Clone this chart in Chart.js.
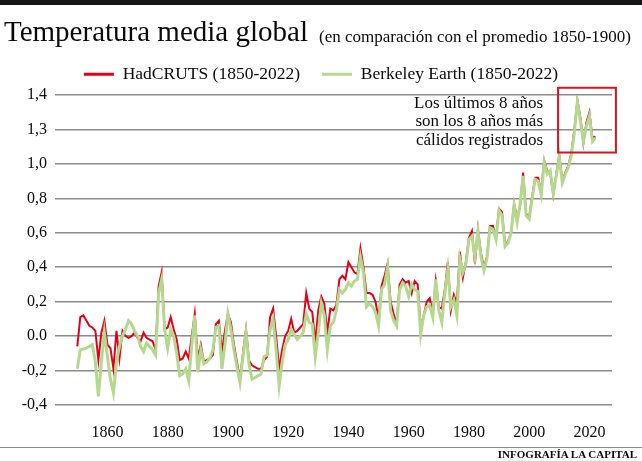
<!DOCTYPE html>
<html>
<head>
<meta charset="utf-8">
<script src="https://cdn.jsdelivr.net/npm/chart.js@4.4.1/dist/chart.umd.min.js"></script>
<style>
  html, body { margin: 0; padding: 0; background: #fff; }
  body { width: 642px; height: 461px; position: relative; overflow: hidden; font-family: "Liberation Serif", serif; color: #0a0a0a; }
  #chart { position: absolute; left: 0; top: 0; }
  .topbar { position: absolute; left: 0; top: 0; width: 642px; height: 5px; background: #161616; }
  .bottomline { position: absolute; left: 0; top: 447px; width: 642px; height: 1px; background: #8a8a8a; }
  .title { position: absolute; left: 4px; top: 17.4px; font-size: 29px; line-height: 29px; white-space: nowrap; }
  .subtitle { position: absolute; left: 319px; top: 27.5px; font-size: 17px; line-height: 17px; white-space: nowrap; }
  .note { position: absolute; right: 99px; top: 93.5px; font-size: 17px; line-height: 18.5px; text-align: right; white-space: nowrap; }
  .credit { position: absolute; right: 5px; top: 449.4px; font-size: 11px; line-height: 11px; font-weight: bold; white-space: nowrap; }
</style>
</head>
<body>
<canvas id="chart" width="642" height="461"></canvas>
<div class="topbar"></div>
<div class="title">Temperatura media global</div>
<div class="subtitle">(en comparación con el promedio 1850-1900)</div>
<div class="note">Los últimos 8 años<br>son los 8 años más<br>cálidos registrados</div>
<div class="bottomline"></div>
<div class="credit">INFOGRAFÍA LA CAPITAL</div>
<script>
// anomalies vs 1850-1900 (one value per year, 1850-2022)
const firstYear = 1850
const hadcrut = [
  -0.06, 0.11, 0.12, 0.09, 0.06, 0.05, 0.03, -0.14, 0.02, 0.09,
  -0.05, -0.07, -0.19, 0.03, -0.13, 0.03, 0.00, -0.01, 0.00, 0.02,
  -0.01, -0.03, 0.02, -0.01, -0.02, -0.03, -0.08, 0.29, 0.37, 0.04,
  0.05, 0.11, 0.04, -0.02, -0.14, -0.13, -0.09, -0.13, 0.00, 0.13,
  -0.13, -0.05, -0.15, -0.14, -0.13, -0.11, 0.07, 0.09, -0.09, 0.03,
  0.13, 0.08, -0.05, -0.15, -0.25, -0.10, 0.04, -0.14, -0.17, -0.18,
  -0.19, -0.19, -0.14, -0.12, 0.11, 0.16, 0.00, -0.19, -0.08, 0.00,
  0.03, 0.10, 0.02, 0.03, 0.05, 0.07, 0.25, 0.16, 0.14, -0.04,
  0.15, 0.23, 0.19, 0.02, 0.16, 0.15, 0.18, 0.33, 0.35, 0.33,
  0.43, 0.40, 0.37, 0.36, 0.51, 0.40, 0.25, 0.25, 0.24, 0.20,
  0.10, 0.29, 0.35, 0.42, 0.20, 0.13, 0.07, 0.30, 0.33, 0.31,
  0.32, 0.25, 0.32, 0.30, 0.05, 0.12, 0.20, 0.22, 0.13, 0.32,
  0.17, 0.16, 0.27, 0.43, 0.15, 0.24, 0.19, 0.49, 0.34, 0.43,
  0.57, 0.61, 0.42, 0.62, 0.48, 0.40, 0.46, 0.64, 0.64, 0.57,
  0.74, 0.72, 0.53, 0.55, 0.60, 0.77, 0.68, 0.76, 0.95, 0.71,
  0.69, 0.81, 0.92, 0.92, 0.84, 1.02, 0.96, 0.95, 0.82, 0.94,
  1.05, 0.90, 0.95, 0.99, 1.06, 1.20, 1.37, 1.27, 1.12, 1.24,
  1.30, 1.15, 1.16
]
const berkeley = [
  -0.19, -0.08, -0.075, -0.07, -0.06, -0.05, -0.15, -0.35, -0.15, 0.02,
  -0.12, -0.25, -0.33, -0.15, -0.06, 0.00, 0.04, 0.09, 0.07, 0.03,
  0.00, -0.06, -0.09, -0.04, -0.06, -0.08, -0.11, 0.25, 0.33, 0.04,
  -0.07, 0.04, 0.00, -0.10, -0.23, -0.22, -0.19, -0.26, -0.05, 0.12,
  -0.21, -0.08, -0.16, -0.15, -0.13, -0.08, 0.05, 0.06, -0.19, -0.05,
  0.13, 0.04, -0.08, -0.18, -0.27, -0.12, 0.02, -0.16, -0.25, -0.24,
  -0.23, -0.22, -0.12, -0.11, 0.04, 0.10, -0.08, -0.29, -0.15, -0.05,
  -0.02, 0.04, 0.01, -0.02, 0.00, 0.02, 0.13, 0.08, 0.07, -0.12,
  0.02, 0.19, 0.12, -0.08, 0.06, 0.08, 0.15, 0.27, 0.25, 0.27,
  0.31, 0.29, 0.32, 0.33, 0.46, 0.37, 0.17, 0.19, 0.17, 0.14,
  0.06, 0.27, 0.30, 0.40, 0.15, 0.09, 0.06, 0.27, 0.31, 0.29,
  0.23, 0.30, 0.27, 0.26, 0.01, 0.12, 0.17, 0.18, 0.11, 0.33,
  0.15, 0.08, 0.25, 0.39, 0.17, 0.21, 0.12, 0.45, 0.37, 0.42,
  0.56, 0.58, 0.46, 0.61, 0.46, 0.38, 0.45, 0.63, 0.62, 0.56,
  0.73, 0.70, 0.52, 0.54, 0.60, 0.76, 0.66, 0.77, 0.93, 0.70,
  0.68, 0.80, 0.91, 0.90, 0.82, 1.01, 0.94, 0.96, 0.83, 0.93,
  1.04, 0.89, 0.94, 0.98, 1.05, 1.18, 1.36, 1.25, 1.13, 1.22,
  1.28, 1.13, 1.15
]
const seriesNames = ['HadCRUTS (1850-2022)', 'Berkeley Earth (1850-2022)']
const xTicks = [1860, 1880, 1900, 1920, 1940, 1960, 1980, 2000, 2020]
const yTicks = [-0.4, -0.2, 0, 0.2, 0.4, 0.6, 0.8, 1.0, 1.2, 1.4]
const yTickLabels = ['-0,4', '-0,2', '0.0', '0,2', '0,4', '0,6', '0,8', '1,0', '1,3', '1,4']

const RED = '#e2001a'
const GREEN = '#b4d98e'
const FONT = 'Liberation Serif'

function toPoints(values) {
    return values.map(function(v, i) {
        return { x: firstYear + i, y: v }
    })
}

// box around the last eight years (data coords)
const boxArea = { x0: 2009.6, x1: 2028.8, y0: 1.066, y1: 1.442 }

const boxPlugin = {
    id: 'lastYearsBox',
    afterDatasetsDraw(chart) {
        const {ctx, scales: {x, y}} = chart
        const l = x.getPixelForValue(boxArea.x0), r = x.getPixelForValue(boxArea.x1)
        const t = y.getPixelForValue(boxArea.y1), b = y.getPixelForValue(boxArea.y0)
        ctx.save()
        ctx.strokeStyle = '#d8141c'
        ctx.lineWidth = 2
        ctx.strokeRect(l, t, r - l, b - t)
        ctx.restore()
    }
}

// fixed legend block height so the plot area starts where the reference does,
// and centre the legend on the page instead of on the padded box
const legendPlace = {
    id: 'legendPlace',
    beforeInit(chart) {
        const fit = chart.legend.fit
        chart.legend.fit = function() {
            fit.bind(chart.legend)()
            this.height = 51.5
        }
    },
    afterLayout(chart) {
        chart.legend.left += 15
        chart.legend.right += 15
    }
}

new Chart(document.getElementById('chart').getContext('2d'), {
    type: 'line',
    data: {
        datasets: [{
            label: seriesNames[0],
            data: toPoints(hadcrut),
            borderColor: RED,
            backgroundColor: RED,
            borderWidth: 2,
            pointRadius: 0,
            tension: 0,
            order: 1
        }, {
            label: seriesNames[1],
            data: toPoints(berkeley),
            borderColor: GREEN,
            backgroundColor: GREEN,
            borderWidth: 3,
            pointRadius: 0,
            tension: 0,
            order: 0
        }]
    },
    options: {
        responsive: false,
        animation: false,
        layout: { padding: { top: 43.5, left: 0, right: 30, bottom: 0 } },
        plugins: {
            tooltip: { enabled: false },
            legend: {
                position: 'top',
                labels: {
                    boxWidth: 30,
                    boxHeight: 3,
                    padding: 22,
                    color: '#0a0a0a',
                    font: { family: FONT, size: 17.5 },
                    sort: function(a, b) { return a.datasetIndex - b.datasetIndex },
                    generateLabels: function(chart) {
                        return Chart.defaults.plugins.legend.labels.generateLabels(chart).map(function(item) {
                            item.lineWidth = 0
                            return item
                        })
                    }
                }
            }
        },
        scales: {
            x: {
                type: 'linear',
                min: 1842.6,
                max: 2027.5,
                grid: { display: false },
                border: { display: false },
                afterBuildTicks: function(scale) {
                    scale.ticks = xTicks.map(function(v) { return { value: v } })
                },
                afterFit: function(scale) { scale.height = 56 },
                ticks: {
                    padding: 10,
                    maxRotation: 0,
                    color: '#0a0a0a',
                    font: { family: FONT, size: 16 },
                    callback: function(v) { return String(v) }
                }
            },
            y: {
                min: -0.4,
                max: 1.4,
                afterBuildTicks: function(scale) {
                    scale.ticks = yTicks.map(function(v) { return { value: v } })
                },
                afterFit: function(scale) { scale.width = 55 },
                grid: { color: '#8c8c8c', lineWidth: 1.5, drawTicks: false },
                border: { display: false },
                ticks: {
                    padding: 8,
                    color: '#0a0a0a',
                    font: { family: FONT, size: 16 },
                    callback: function(v, i) { return yTickLabels[i] }
                }
            }
        }
    },
    plugins: [boxPlugin, legendPlace]
})
</script>
</body>
</html>
